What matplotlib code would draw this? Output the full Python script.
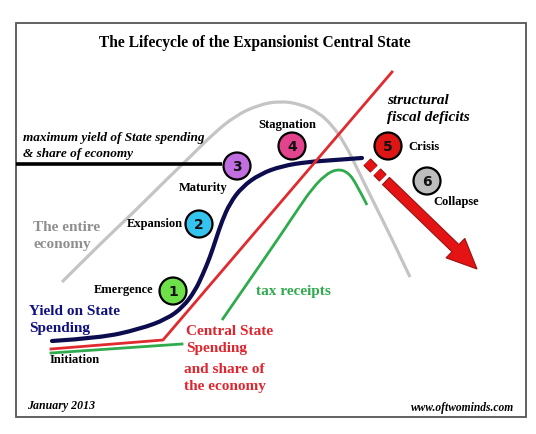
import matplotlib
matplotlib.use("Agg")
import matplotlib.pyplot as plt
import matplotlib.patches as mpatches
import matplotlib.patheffects as pe
from matplotlib.path import Path

# everything is in picture pixels (x right, y down)
economy_x = [62, 100, 135, 167, 190, 213, 235, 258, 280, 300, 318, 333, 345, 355, 372, 392, 410]
economy_y = [283, 245, 212, 180, 158, 135, 117, 106, 102, 105, 113, 127, 145, 165, 200, 240, 278]

yield_x = [52, 100, 140, 167, 183, 195, 203, 210, 216, 222, 230, 242, 260, 282, 307, 335, 362]
yield_y = [342, 339, 330, 320, 308, 292, 275, 258, 240, 222, 204, 188, 175, 167, 163, 161, 159]

spend_x = [51, 163, 392]
spend_y = [350, 341, 73]

tax_low_x = [51, 182]
tax_low_y = [354, 345]
tax_x = [222, 240, 260, 280, 300, 312, 325, 337, 348, 357, 367]
tax_y = [321, 295, 266, 237, 207, 190, 176, 170, 173, 186, 206]

max_line_x = [16, 222]
max_line_y = [165, 165]

stage_num = ["1", "2", "3", "4", "5", "6"]
stage_x = [173, 199, 237, 292, 388, 427]
stage_y = [292, 225, 167, 147, 147, 182]
stage_col = ["#6ee04a", "#35c3ef", "#c06ee0", "#e2438c", "#dd1515", "#bdbdbd"]


def smooth_curve(xs, ys, **kw):
    # quadratic bezier pieces through the midpoints, so the bends are round
    pts = list(zip(xs, ys))
    verts = [pts[0]]
    codes = [Path.MOVETO]
    for i in range(1, len(pts) - 1):
        mid = ((pts[i][0] + pts[i + 1][0]) / 2, (pts[i][1] + pts[i + 1][1]) / 2)
        if i == len(pts) - 2:
            mid = pts[-1]
        verts += [pts[i], mid]
        codes += [Path.CURVE3, Path.CURVE3]
    return mpatches.PathPatch(Path(verts, codes), fill=False, **kw)


fig = plt.figure(figsize=(5.36, 4.35), dpi=100)
ax = fig.add_axes([0, 0, 1, 1])
ax.set_xlim(0, 536)
ax.set_ylim(435, 0)
ax.axis("off")

serif = ["Liberation Serif", "DejaVu Serif"]

ax.add_patch(mpatches.Rectangle((16, 24), 510, 394, fill=False, ec="#555555", lw=1.3))

ax.text(255, 43, "The Lifecycle of the Expansionist Central State", family=serif,
        weight="bold", fontsize=11.2, ha="center", va="center")

ax.plot(max_line_x, max_line_y, color="black", lw=2.6, solid_capstyle="butt")
ax.add_patch(smooth_curve(economy_x, economy_y, ec="#c4c4c4", lw=2.3, capstyle="butt"))
ax.plot(spend_x, spend_y, color="#e02a2e", lw=2.0)
ax.plot(tax_low_x, tax_low_y, color="#2faa4c", lw=2.0)
ax.add_patch(smooth_curve(tax_x, tax_y, ec="#2faa4c", lw=2.0, capstyle="butt"))
ax.add_patch(smooth_curve(yield_x, yield_y, ec="#0c0c4e", lw=3.0, capstyle="round"))

# collapse arrow, starting with two small broken pieces
outline = [pe.Stroke(linewidth=7.5, foreground="#8a0d0d"), pe.Normal()]
ax.plot([367, 374], [163, 170], color="#e51414", lw=6, solid_capstyle="butt", path_effects=outline)
ax.plot([377, 383], [173, 179], color="#e51414", lw=6, solid_capstyle="butt", path_effects=outline)
ax.add_patch(mpatches.FancyArrow(386, 182, 91, 88, width=10, head_width=27, head_length=30,
                                 length_includes_head=True, fc="#e51414", ec="#9a1010", lw=0.8))

for n, x, y, c in zip(stage_num, stage_x, stage_y, stage_col):
    ax.add_patch(mpatches.Circle((x, y), 13.5, fc=c, ec="black", lw=1.6, zorder=5))
    ax.text(x, y + 0.5, n, ha="center", va="center", fontsize=10, weight="bold",
            family="DejaVu Sans", color="#111111", zorder=6)

lab = dict(family=serif, weight="bold", fontsize=9, color="black", va="center")
ax.text(287, 125, "Stagnation", ha="center", **lab)
ax.text(203, 188, "Maturity", ha="center", **lab)
ax.text(183, 224, "Expansion", ha="right", **lab)
ax.text(153, 290, "Emergence", ha="right", **lab)
ax.text(50, 360, "Initiation", ha="left", **lab)
ax.text(408, 147, "Crisis", ha="left", **lab)
ax.text(433, 202, "Collapse", ha="left", **lab)

ital = dict(family=serif, weight="bold", style="italic", color="black", va="center")
ax.text(23, 138, "maximum yield of State spending", fontsize=9.5, **ital)
ax.text(23, 154, "& share of economy", fontsize=9.5, **ital)
ax.text(387, 100, "structural", fontsize=11, **ital)
ax.text(387, 118, "fiscal deficits", fontsize=11, **ital)
ax.text(27, 406, "January 2013", fontsize=8.6, **ital)
ax.text(514, 408, "www.oftwominds.com", fontsize=8.3, ha="right", **ital)

big = dict(family=serif, weight="bold", fontsize=11, va="center")
ax.text(33, 228, "The entire", color="#8e8e8e", **big)
ax.text(33, 245, "economy", color="#8e8e8e", **big)
ax.text(29, 312, "Yield on State", color="#101080", **big)
ax.text(29, 329, "Spending", color="#101080", **big)
ax.text(256, 292, "tax receipts", color="#2faa4c", **big)
ax.text(186, 332, "Central State", color="#e0252e", **big)
ax.text(186, 349, "Spending", color="#e0252e", **big)
ax.text(184, 370, "and share of", color="#e0252e", **big)
ax.text(184, 387, "the economy", color="#e0252e", **big)

fig.savefig("out.png", dpi=100)
